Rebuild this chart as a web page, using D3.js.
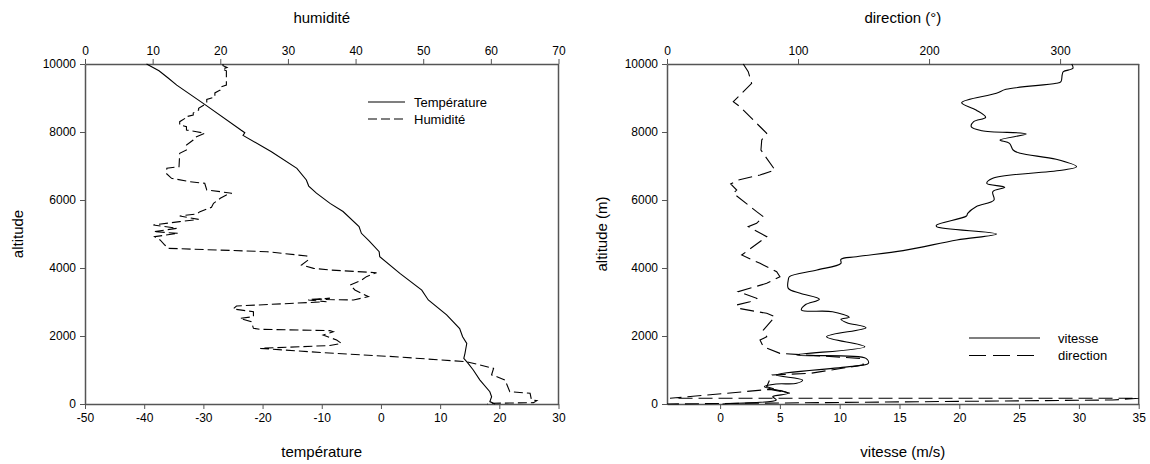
<!DOCTYPE html>
<html><head><meta charset="utf-8">
<script src="https://cdn.jsdelivr.net/npm/d3@7"></script>
<style>body{margin:0;background:#fff}svg{display:block}text{font-family:"Liberation Sans",Arial,sans-serif;fill:#000}</style>
</head><body>
<script>
// ---- Data ----
const altTicks = [0, 2000, 4000, 6000, 8000, 10000];
const tempTicks = [-50, -40, -30, -20, -10, 0, 10, 20, 30];
const humTicks = [0, 10, 20, 30, 40, 50, 60, 70];
const speedTicks = [0, 5, 10, 15, 20, 25, 30, 35];
const dirTicks = [0, 100, 200, 300];

// temperature profile [temperature, altitude]
const temperature = [
 [-39.6,10000],[-37.5,9800],[-35.9,9580],[-34.5,9380],[-29.6,8790],[-23.6,8050],[-23.0,7980],[-23.3,7900],
 [-18.5,7420],[-14.2,6930],[-12.6,6590],[-12.2,6410],[-10.9,6200],[-8.6,5900],[-6.4,5660],[-3.7,5220],
 [-3.3,5020],[-2.0,4800],[-0.3,4480],[-0.2,4330],[3.2,3840],[6.9,3350],[8.0,3060],[11.1,2620],[13.3,2220],
 [13.8,1980],[14.5,1780],[14.2,1490],[14.0,1340],[14.7,1200],[15.6,1000],[16.7,710],[18.4,360],[18.7,215],
 [18.4,70],[19.0,20],[19.3,0]
];
// humidity profile [humidity, altitude]
const humidity = [
 [20.4,10000],[20.4,9950],[21.0,9900],[20.3,9850],[20.9,9800],[20.9,9380],[20.0,9320],[20.0,9235],[19.2,9150],
 [19.2,9030],[18.0,8960],[18.0,8843],[16.8,8700],[16.8,8647],[16.0,8560],[16.0,8500],[14.8,8440],[14.8,8402],
 [14.0,8304],[14.0,8206],[15.0,8156],[15.0,8059],[16.5,8009],[17.7,7961],[16.3,7843],[16.0,7765],[15.0,7618],
 [15.0,7470],[14.0,7373],[13.9,6980],[12.1,6932],[12.0,6785],[12.8,6638],[15.5,6539],[17.7,6491],[18.0,6294],
 [20.0,6244],[21.7,6197],[20.9,6147],[20.0,6050],[19.0,5903],[18.7,5785],[17.0,5657],[16.5,5588],[14.0,5529],
 [16.8,5431],[14.0,5363],[10.1,5265],[13.6,5167],[10.1,5069],[13.8,5020],[10.3,4921],[11.1,4824],[11.8,4676],
 [12.3,4578],[26.9,4480],[32.8,4353],[33.0,4235],[32.0,4088],[33.8,3990],[36.2,3941],[43.1,3862],[41.6,3745],
 [40.9,3647],[39.2,3500],[39.9,3353],[41.9,3157],[39.7,3059],[33.3,3079],[36.2,3108],[33.0,3059],[35.7,3009],
 [22.4,2882],[21.9,2794],[24.9,2715],[24.9,2568],[22.9,2520],[24.6,2421],[24.9,2226],[25.9,2197],[36.2,2157],
 [36.7,2127],[35.2,2029],[37.2,1882],[37.9,1784],[36.2,1720],[25.9,1637],[35.2,1510],[45.0,1400],[56.4,1245],
 [60.4,1049],[60.1,853],[60.9,804],[62.1,706],[62.8,362],[65.8,314],[66.0,118],[66.8,98],[66.3,40],[59.9,20],[59.5,0]
];
// wind speed profile [speed m/s, altitude]
const speed = [
 [29.4,10000],[29.5,9873],[28.7,9773],[28.6,9676],[28.5,9480],[28.1,9432],[23.9,9255],[23.1,9138],[20.2,8863],
 [21.4,8647],[22.2,8432],[21.2,8304],[21.0,8156],[21.9,8039],[25.6,7941],[23.4,7765],[24.2,7667],[24.5,7471],
 [25.1,7373],[28.1,7197],[29.8,6980],[28.7,6882],[22.8,6638],[22.3,6491],[23.8,6373],[22.8,6244],[22.9,6000],
 [21.4,5803],[20.7,5608],[20.6,5529],[18.1,5265],[18.1,5216],[23.1,5000],[19.8,4824],[15.3,4510],[11.4,4333],
 [10.1,4255],[10.1,4138],[8.1,3941],[5.8,3745],[5.7,3647],[5.7,3402],[6.7,3255],[8.3,3079],[7.1,2912],[6.8,2765],
 [9.4,2715],[10.8,2549],[10.1,2490],[10.6,2392],[12.2,2245],[8.9,1980],[12.1,1686],[6.4,1441],[12.2,1343],
 [12.4,1196],[10.8,1098],[4.7,853],[6.9,706],[6.4,608],[4.7,588],[3.7,510],[5.7,314],[4.4,216],[4.7,118],[1.4,20],[0.2,0]
];
// wind direction profile [direction °, altitude]
const direction = [
 [58.2,10000],[62.0,9773],[64.6,9432],[55.7,9088],[50.6,8891],[55.7,8745],[63.3,8450],[69.7,8206],[76.1,7961],
 [72.3,7765],[71.7,7471],[76.1,7226],[82.4,6882],[71.0,6735],[54.4,6588],[48.6,6471],[53.2,6294],[50.6,6197],
 [62.0,5853],[68.4,5657],[73.5,5510],[68.4,5314],[62.0,5216],[76.1,4921],[57.0,4382],[71.0,4138],[83.7,3892],
 [86.2,3745],[76.1,3549],[54.4,3304],[68.4,3108],[63.3,3009],[53.2,2912],[54.4,2814],[76.1,2667],[82.4,2568],
 [73.5,2176],[76.1,1980],[71.0,1882],[73.5,1686],[86.2,1490],[147.3,1343],[150.0,1150],[109.0,900],[80.0,853],
 [76.1,510],[93.8,314],[78.6,431],[2.3,167],[360,167],[340,118],[0,0]
];

// ---- Layout ----
const W = 1150, H = 464;
const svg = d3.select("body").append("svg").attr("width", W).attr("height", H);
const plotTop = 64, plotBottom = 404;
const axisColor = "#555";
const fmt = d => String(d);

function styleAxis(g){
  g.selectAll(".domain").attr("stroke", axisColor).attr("stroke-width", 1.5);
  g.selectAll(".tick line").attr("stroke", axisColor).attr("stroke-width", 1);
  g.selectAll(".tick text").attr("font-size", 12).attr("font-family", '"Liberation Sans",Arial,sans-serif').attr("fill","#000");
}

function panel(opt){
  const y = d3.scaleLinear().domain([0, 10000]).range([plotBottom, plotTop]);
  const xb = d3.scaleLinear().domain(opt.bDomain).range([opt.left, opt.right]);
  const xt = d3.scaleLinear().domain(opt.tDomain).range([opt.left, opt.right]);
  const g = svg.append("g");
  g.append("line").attr("x1", opt.right).attr("x2", opt.right).attr("y1", plotTop).attr("y2", plotBottom)
   .attr("stroke", axisColor).attr("stroke-width", 1.5);
  g.append("g").attr("transform", `translate(0,${plotBottom})`)
   .call(d3.axisBottom(xb).tickValues(opt.bTicks).tickSize(5).tickSizeOuter(0).tickPadding(4).tickFormat(fmt))
   .call(styleAxis);
  g.append("g").attr("transform", `translate(0,${plotTop})`)
   .call(d3.axisTop(xt).tickValues(opt.tTicks).tickSize(5).tickSizeOuter(0).tickPadding(4).tickFormat(fmt))
   .call(styleAxis);
  g.append("g").attr("transform", `translate(${opt.left},0)`)
   .call(d3.axisLeft(y).tickValues(altTicks).tickSize(5).tickSizeOuter(0).tickPadding(4).tickFormat(fmt))
   .call(styleAxis);
  const cx = (opt.left + opt.right) / 2;
  g.append("text").attr("x", cx).attr("y", 457).attr("text-anchor", "middle").attr("font-size", 15).text(opt.bTitle);
  g.append("text").attr("x", cx).attr("y", 23).attr("text-anchor", "middle").attr("font-size", 15).text(opt.tTitle);
  g.append("text").attr("transform", `translate(${opt.yTitleX},${(plotTop+plotBottom)/2}) rotate(-90)`)
   .attr("text-anchor", "middle").attr("font-size", 15).text(opt.yTitle);
  const lineB = d3.line().curve(opt.bCurve).x(d => xb(d[0])).y(d => y(d[1]));
  const lineT = d3.line().curve(opt.tCurve).x(d => xt(d[0])).y(d => y(d[1]));
  g.append("path").datum(opt.bData).attr("d", lineB).attr("fill", "none").attr("stroke", "#000")
   .attr("stroke-width", 1.1).attr("stroke-dasharray", opt.bDash);
  g.append("path").datum(opt.tData).attr("d", lineT).attr("fill", "none").attr("stroke", "#000")
   .attr("stroke-width", 1.1).attr("stroke-dasharray", opt.tDash);
  const L = opt.legend;
  L.items.forEach((it, i) => {
    const yy = L.y + i * L.dy;
    g.append("line").attr("x1", L.x1).attr("x2", L.x2).attr("y1", yy).attr("y2", yy)
     .attr("stroke", "#000").attr("stroke-width", 1.1).attr("stroke-dasharray", it.dash);
    g.append("text").attr("x", L.tx).attr("y", yy + 4.5).attr("font-size", 13).text(it.label);
  });
}

panel({
  left: 85, right: 558.5,
  bDomain: [-50, 30], tDomain: [0, 70], bTicks: tempTicks, tTicks: humTicks,
  bTitle: "température", tTitle: "humidité", yTitle: "altitude", yTitleX: 23,
  bData: temperature, tData: humidity, bDash: null, tDash: "9,4",
  bCurve: d3.curveLinear, tCurve: d3.curveLinear,
  legend: {x1: 368, x2: 405, tx: 414, y: 102, dy: 17,
    items: [{label: "Température", dash: null}, {label: "Humidité", dash: "9,4"}]}
});

panel({
  left: 667, right: 1138.7,
  bDomain: [-4.44, 35], tDomain: [0, 360], bTicks: speedTicks, tTicks: dirTicks,
  bTitle: "vitesse (m/s)", tTitle: "direction (°)", yTitle: "altitude (m)", yTitleX: 607,
  bData: speed, tData: direction, bDash: null, tDash: "14,6",
  bCurve: d3.curveCatmullRom.alpha(0.5), tCurve: d3.curveLinear,
  legend: {x1: 969, x2: 1040, tx: 1058, y: 338, dy: 17.5,
    items: [{label: "vitesse", dash: null}, {label: "direction", dash: "17,7"}]}
});
</script>
</body></html>
